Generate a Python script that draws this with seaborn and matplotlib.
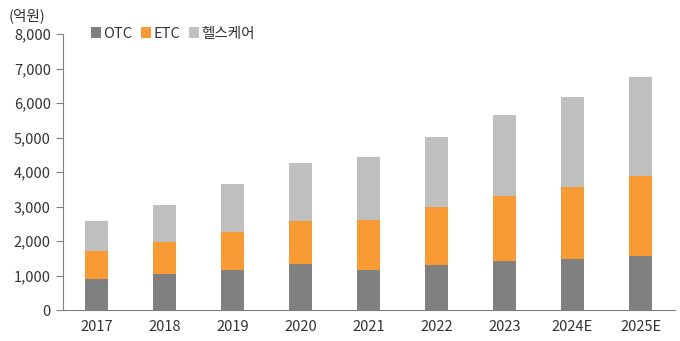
import matplotlib
matplotlib.use("Agg")
import matplotlib.pyplot as plt
import seaborn as sns
import pandas as pd
from matplotlib.patches import Patch

years = ["2017", "2018", "2019", "2020", "2021", "2022", "2023", "2024E", "2025E"]
otc = [910, 1040, 1180, 1330, 1160, 1310, 1440, 1500, 1570]
etc = [810, 940, 1080, 1250, 1450, 1680, 1880, 2080, 2310]
health = [865, 1060, 1410, 1700, 1840, 2030, 2330, 2590, 2880]
series_names = ["OTC", "ETC", "헬스케어"]
colors = ["#808080", "#F99B35", "#BFBFBF"]

sns.set_theme(style="white")
plt.rcParams["font.family"] = ["Noto Sans CJK KR", "DejaVu Sans"]

df = pd.DataFrame({"year": years, "otc": otc, "etc": etc, "health": health})
df["etc_top"] = df["otc"] + df["etc"]
df["total"] = df["etc_top"] + df["health"]

fig, ax = plt.subplots(figsize=(6.8, 3.41), dpi=100)
fig.subplots_adjust(left=0.092, right=0.992, top=0.9, bottom=0.09)

# stacked bars: draw cumulative heights from the top layer down
for col, c in zip(["total", "etc_top", "otc"], colors[::-1]):
    sns.barplot(data=df, x="year", y=col, color=c, width=0.34,
                saturation=1, ax=ax, linewidth=0)

ax.set_ylim(0, 8000)
ax.set_xlim(-0.5, len(years) - 0.5)
ax.set_yticks(range(0, 8001, 1000))
ax.set_yticklabels([f"{v:,}" for v in range(0, 8001, 1000)])
ax.set_xlabel("")
ax.set_ylabel("")

# category separator ticks on the x axis
ax.set_xticks([i - 0.5 for i in range(len(years) + 1)], minor=True)
ax.tick_params(axis="x", which="major", length=0, labelsize=10.5, colors="#333333", pad=7)
ax.tick_params(axis="x", which="minor", length=5, width=0.8, color="#808080", direction="out")
ax.tick_params(axis="y", which="major", length=5, width=0.8, color="#808080",
               direction="out", labelsize=10.5, labelcolor="#333333", left=True)

for s in ["top", "right"]:
    ax.spines[s].set_visible(False)
for s in ["left", "bottom"]:
    ax.spines[s].set_color("#808080")
    ax.spines[s].set_linewidth(0.8)

fig.text(0.012, 0.955, "(억원)", fontsize=10.5, color="#333333", va="center")

handles = [Patch(facecolor=c, edgecolor="none") for c in colors]
ax.legend(handles, series_names, loc="upper left", bbox_to_anchor=(0.025, 1.075),
          ncol=3, frameon=False, fontsize=10.5, handlelength=0.7, handleheight=0.7,
          handletextpad=0.15, columnspacing=0.6, labelcolor="#333333")

fig.savefig("out.png", dpi=100)
